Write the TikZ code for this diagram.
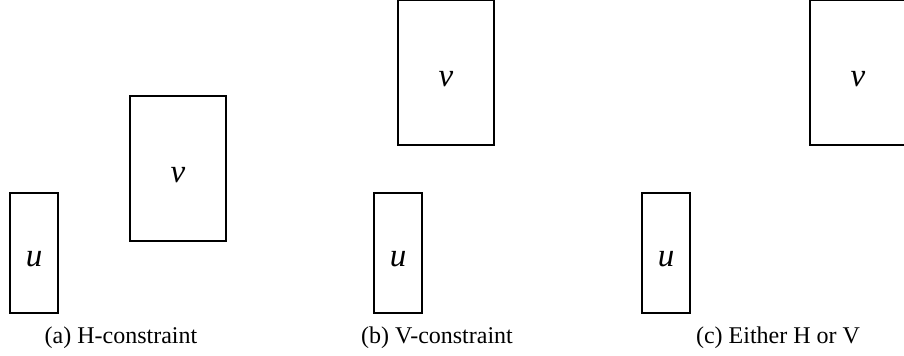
\documentclass[tikz,border=0pt]{standalone}
\usepackage{fontspec}
\setmainfont{Liberation Serif}
\usetikzlibrary{positioning}

\begin{document}
\begin{tikzpicture}[
    x=0.5pt, y=-0.5pt,
    small/.style={draw, line width=0.55pt, minimum width=24pt, minimum height=60pt, inner sep=0pt, text height=14pt, text depth=0pt, font=\fontsize{16.5}{18}\selectfont\itshape},
    big/.style={draw, line width=0.55pt, minimum width=48pt, minimum height=72.5pt, inner sep=0pt, text height=14pt, text depth=0pt, font=\fontsize{16.5}{18}\selectfont\itshape},
    subcap/.style={font=\fontsize{12}{14}\selectfont}
]
    \clip (0,0) rectangle (904,356);
    \useasboundingbox (0,0) rectangle (904,356);

    % (a) horizontal
    \node[small] (ua) at (34,253) {u};
    \node[big] (va) at (178,168.5) {v};
    \node[subcap] (capa) at (121,338) {(a) H-constraint};

    % (b) vertical
    \node[small] (ub) at (398,253) {u};
    \node[big] (vb) at (446,72.5) {v};
    \node[subcap] (capb) at (437,338) {(b) V-constraint};

    % (c) either
    \node[small] (uc) at (666,253) {u};
    \node[big] (vc) at (858,72.5) {v};
    \node[subcap] (capc) at (778,338) {(c) Either H or V};
\end{tikzpicture}
\end{document}
